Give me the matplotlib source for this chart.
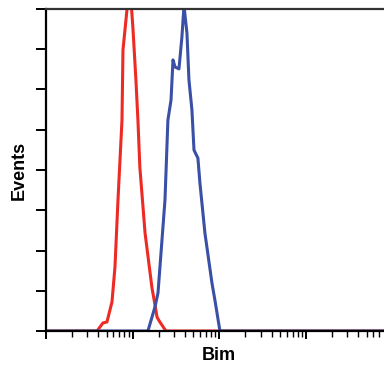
import numpy as np
import matplotlib.pyplot as plt
from matplotlib.ticker import LogLocator, NullFormatter

# isotype control (red)
red_x = [1, 3.88, 4.54, 5.05, 5.77, 6.25, 6.77, 7.53, 7.73, 8.37, 8.83, 9.55,
         10.1, 10.9, 11.5, 12.1, 13.9, 16.7, 18.1, 19.1, 20.6, 24.2, 8000]
red_y = [0, 0, 2.5, 2.8, 9.0, 19.9, 40.7, 65.5, 87.3, 96.6, 103, 103,
         93.5, 78.0, 65.5, 50.9, 30.4, 13.4, 8.1, 4.3, 2.8, 0, 0]

# Bim staining (blue)
blue_x = [1, 15.0, 18.1, 19.6, 23.6, 25.5, 27.7, 29.2, 30.8, 34.2, 37.0, 39.1,
          42.3, 44.6, 48.3, 51.0, 56.6, 59.7, 68.2, 82.2, 88.9, 101.6, 8000]
blue_y = [0, 0, 7.5, 11.8, 40.7, 65.5, 71.7, 84.2, 82.0, 81.4, 91.3, 101,
          92.5, 78.0, 68.6, 56.2, 53.7, 46.0, 30.4, 14.9, 9.6, 0, 0]

fig = plt.figure(figsize=(3.84, 3.66), dpi=100)
ax = fig.add_axes([46 / 384, 35 / 366, 338 / 384, 322 / 366])

ax.plot(red_x, red_y, color='#ee2a24', lw=2.2, solid_joinstyle='round')
ax.plot(blue_x, blue_y, color='#3a4fa6', lw=2.2, solid_joinstyle='round')

ax.set_xscale('log')
ax.set_xlim(1, 10 ** 3.9)
ax.set_ylim(0, 100)
ax.set_yticks(np.linspace(0, 100, 9))
ax.set_yticklabels([])
ax.xaxis.set_major_locator(LogLocator(base=10, numticks=10))
ax.xaxis.set_minor_locator(LogLocator(base=10, subs=np.arange(2, 10), numticks=20))
ax.xaxis.set_major_formatter(NullFormatter())
ax.xaxis.set_minor_formatter(NullFormatter())

ax.spines['right'].set_visible(False)
ax.spines['top'].set_color('#333333')
for s in ['left', 'bottom', 'top']:
    ax.spines[s].set_linewidth(1.6)
ax.tick_params(axis='y', direction='out', length=7, width=1.4)
ax.tick_params(axis='x', which='major', direction='out', length=6, width=1.4)
ax.tick_params(axis='x', which='minor', direction='out', length=4, width=1.0)

font = ['Liberation Sans', 'DejaVu Sans']
fig.text(219 / 384, 1 - 356 / 366, 'Bim', fontsize=13, fontweight='bold',
         family=font, ha='center', va='center')
fig.text(19 / 384, 1 - 170 / 366, 'Events', fontsize=13, fontweight='bold',
         family=font, ha='center', va='center', rotation=90)

fig.savefig('out.png', dpi=100)
